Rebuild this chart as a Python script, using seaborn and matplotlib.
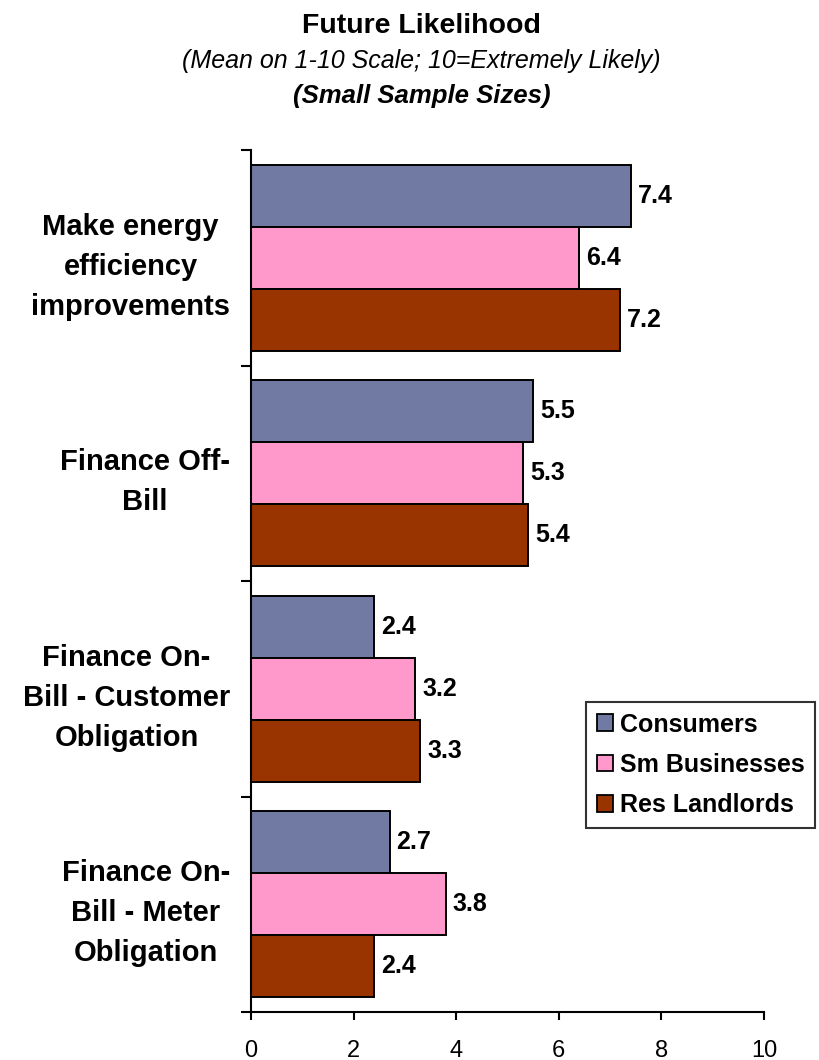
import matplotlib
matplotlib.use("Agg")
import matplotlib.pyplot as plt
import seaborn as sns
import pandas as pd
from matplotlib.patches import Patch

categorias = [
    "Make energy\nefficiency\nimprovements",
    "Finance Off-\nBill",
    "Finance On-\nBill - Customer\nObligation",
    "Finance On-\nBill - Meter\nObligation",
]
grupos = ["Consumers", "Sm Businesses", "Res Landlords"]
consumers = [7.4, 5.5, 2.4, 2.7]
sm_businesses = [6.4, 5.3, 3.2, 3.8]
res_landlords = [7.2, 5.4, 3.3, 2.4]
x_ticks = [0, 2, 4, 6, 8, 10]

cores = {"Consumers": "#717AA3", "Sm Businesses": "#FF99CC", "Res Landlords": "#993300"}

df = pd.DataFrame({
    "categoria": categorias * 3,
    "grupo": [g for g in grupos for _ in categorias],
    "valor": consumers + sm_businesses + res_landlords,
})

sns.set_style("white")
plt.rcParams["font.family"] = ["Liberation Sans", "DejaVu Sans"]
plt.rcParams["text.color"] = "black"
plt.rcParams["xtick.color"] = "black"
plt.rcParams["ytick.color"] = "black"

fig = plt.figure(figsize=(8.19, 10.6), dpi=100)
ax = fig.add_axes([0.30647, 0.04528, 0.62637, 0.81321])

sns.barplot(
    data=df, y="categoria", x="valor", hue="grupo", orient="h",
    palette=cores, order=categorias, hue_order=grupos, saturation=1,
    width=0.863, edgecolor="black", linewidth=1.4, legend=False, ax=ax,
)

for cont in ax.containers:
    ax.bar_label(cont, fmt="%.1f", padding=5, fontsize=18, fontweight="bold",
                 color="black")

ax.set_xlim(0, 10)
ax.set_ylim(len(categorias) - 0.5, -0.5)
ax.set_xticks(x_ticks)
ax.set_xticklabels([str(t) for t in x_ticks], fontsize=17)

# ticks nas divisões entre categorias, rótulos no centro
ax.set_yticks([i - 0.5 for i in range(len(categorias) + 1)])
ax.set_yticklabels([])
ax.set_yticks(range(len(categorias)), minor=True)
ax.set_yticklabels(categorias, minor=True, fontsize=21, fontweight="bold",
                   multialignment="center", linespacing=1.55)
ax.tick_params(axis="y", which="minor", length=0, pad=15)
ax.tick_params(axis="y", which="major", length=7.5, width=1.5, direction="out", left=True)
ax.tick_params(axis="x", length=6, width=1.5, direction="out", bottom=True, pad=14)
ax.set_xlabel("")
ax.set_ylabel("")

sns.despine(ax=ax)
for s in ["left", "bottom"]:
    ax.spines[s].set_linewidth(1.5)
    ax.spines[s].set_color("black")

handles = [Patch(facecolor=cores[g], edgecolor="black", linewidth=1.3) for g in grupos]
leg = fig.legend(
    handles, grupos, loc="upper left", bbox_to_anchor=(586 / 819, 1 - 702 / 1060),
    bbox_transform=fig.transFigure,
    prop={"weight": "bold", "size": 18}, frameon=True, fancybox=False,
    handlelength=0.64, handleheight=0.64, handletextpad=0.3, labelspacing=0.66,
    borderpad=0.42, borderaxespad=0,
)
leg.get_frame().set_edgecolor("black")
leg.get_frame().set_linewidth(1.5)

fig.text(0.515, 1 - 33 / 1060, "Future Likelihood", ha="center", va="baseline",
         fontsize=20.5, fontweight="bold")
fig.text(0.515, 1 - 68 / 1060, "(Mean on 1-10 Scale; 10=Extremely Likely)",
         ha="center", va="baseline", fontsize=18, style="italic")
fig.text(0.515, 1 - 103 / 1060, "(Small Sample Sizes)", ha="center",
         va="baseline", fontsize=18.5, style="italic", fontweight="bold")

fig.savefig("out.png", dpi=100)
